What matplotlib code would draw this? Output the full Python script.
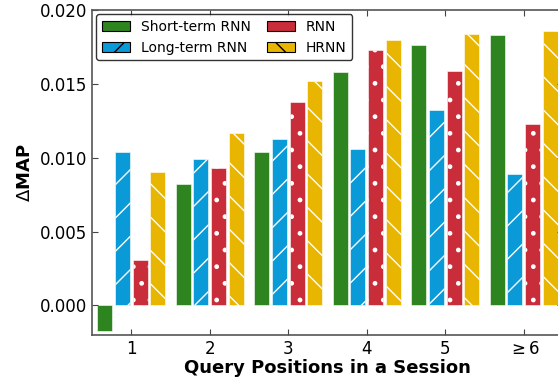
import matplotlib
matplotlib.use("Agg")
import matplotlib.pyplot as plt
from matplotlib.patches import Patch
import numpy as np

plt.rcParams['hatch.color'] = 'white'
plt.rcParams['hatch.linewidth'] = 1.0

categories = ['1', '2', '3', '4', '5', r'$\geq$6']
series_names = ['Short-term RNN', 'Long-term RNN', 'RNN', 'HRNN']
short_term = [-0.0017, 0.0082, 0.0104, 0.0158, 0.0176, 0.0183]
long_term = [0.0104, 0.0099, 0.0113, 0.0106, 0.0132, 0.0089]
rnn = [0.0031, 0.0093, 0.0138, 0.0173, 0.0159, 0.0123]
hrnn = [0.0090, 0.0117, 0.0152, 0.0180, 0.0184, 0.0186]

colors = ['#2e8520', '#0a9ad8', '#c92d39', '#e8b500']
hatches = [None, '/', '.', '\\']

fig = plt.figure(figsize=(5.58, 3.81), dpi=100)
ax = fig.add_axes([92/558, 46/381, 471/558, 325/381])

x = np.arange(1, len(categories) + 1)
step = 0.225
w = 0.19
data = [short_term, long_term, rnn, hrnn]
for i, (vals, name, c, h) in enumerate(zip(data, series_names, colors, hatches)):
    ax.bar(x + (i - 1.5) * step, vals, width=w, color=c, edgecolor='white',
           linewidth=0.4, hatch=h)

ax.set_xlim(0.5, 6.5)
ax.set_ylim(-0.002, 0.020)
ax.set_yticks([0.0, 0.005, 0.010, 0.015, 0.020])
ax.set_yticklabels(['0.000', '0.005', '0.010', '0.015', '0.020'])
ax.set_xticks(x)
ax.set_xticklabels(categories)
ax.tick_params(axis='both', direction='in', labelsize=12, top=True, right=True,
               color='#444444', length=4)
for s in ax.spines.values():
    s.set_color('#555555')
    s.set_linewidth(1.2)
ax.set_xlabel('Query Positions in a Session', fontsize=13, fontweight='bold', labelpad=1)
ax.set_ylabel(r'$\Delta$MAP', fontsize=13, fontweight='bold')

handles = [Patch(facecolor=c, edgecolor='black', linewidth=0.8, hatch=h, label=n)
           for c, h, n in zip(colors, hatches, series_names)]
leg = ax.legend(handles=handles, ncol=2, loc='upper left', fontsize=10, frameon=True,
                fancybox=True, borderaxespad=0.3, columnspacing=1.2, handlelength=2.0)
leg.get_frame().set_edgecolor('black')
leg.get_frame().set_linewidth(1.0)

fig.savefig('out.png', dpi=100)
